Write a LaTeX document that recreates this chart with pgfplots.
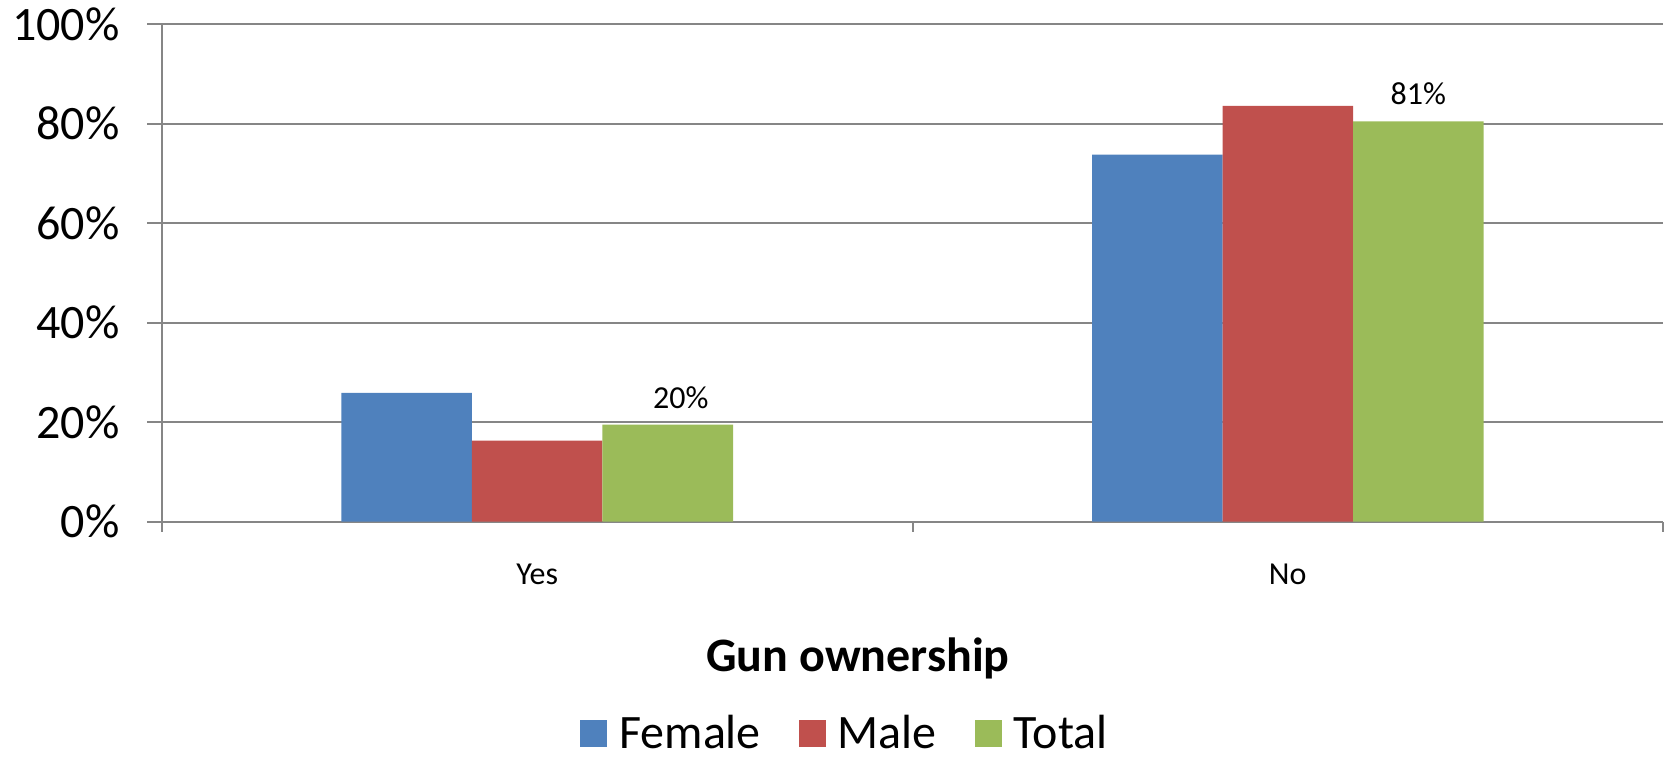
\documentclass[border=0pt]{standalone}
\usepackage{fontspec}
\setmainfont{Carlito}
\usepackage{pgfplots}
\pgfplotsset{compat=1.18}
\definecolor{cF}{HTML}{4F81BD}
\definecolor{cM}{HTML}{C0504D}
\definecolor{cT}{HTML}{9BBB59}
\definecolor{gridc}{HTML}{868686}
\begin{document}
\begin{tikzpicture}
\begin{axis}[
  scale only axis, width=750.5pt, height=248.7pt,
  xmin=-0.5, xmax=1.5, ymin=0, ymax=100,
  axis x line=bottom, axis y line=left,
  axis line style={draw=gridc, line width=1pt, -},
  ybar=0pt, bar width=65.25pt,
  xtick={0,1}, xticklabels={Yes,No},
  minor xtick={-0.5,0.5,1.5},
  major x tick style={draw=none},
  minor x tick style={draw=gridc, line width=1pt},
  minor tick length=5pt,
  ytick={0,20,40,60,80,100},
  yticklabels={0\%,20\%,40\%,60\%,80\%,100\%},
  major tick length=7.3pt,
  tick align=outside,
  ymajorgrids, grid style={draw=gridc, line width=1pt},
  major y tick style={draw=gridc, line width=1pt},
  yticklabel style={font=\fontsize{24}{28}\selectfont, inner sep=0pt, xshift=-13.7pt},
  xticklabel style={font=\fontsize{16}{19}\selectfont, inner sep=0pt, yshift=-13.5pt},
  xlabel={Gun ownership},
  xlabel style={at={(axis description cs:0.4637,-0.302)}, anchor=base, inner sep=0pt, font=\bfseries\fontsize{24}{29}\selectfont},
  legend columns=3,
  legend style={at={(axis description cs:0.4544,-0.426)}, anchor=center, draw=none, fill=none,
    font=\fontsize{24}{28}\selectfont, nodes={inner sep=0pt},
    /tikz/every odd column/.append style={column sep=6pt},
    /tikz/every even column/.append style={column sep=19pt}},
  legend image code/.code={\fill[#1] (0pt,-6.75pt) rectangle (13.5pt,6.75pt);},
]
\addplot[fill=cF, draw=none] coordinates {(0,25.9) (1,73.8)};
\addlegendentry{Female}
\addplot[fill=cM, draw=none] coordinates {(0,16.3) (1,83.6)};
\addlegendentry{Male}
\addplot[fill=cT, draw=none, nodes near coords, point meta=explicit symbolic,
  nodes near coords style={font=\fontsize{16}{19}\selectfont, inner sep=0pt, yshift=8pt, text=black}]
  coordinates {(0,19.5) [\hspace*{13pt}20\%] (1,80.5) [81\%]};
\addlegendentry{Total}
\coordinate (sw) at (rel axis cs:0,0);
\end{axis}
\pgfresetboundingbox
\path[use as bounding box] (sw) ++(-81pt,-118.15pt) rectangle ++(836pt,379pt);
\end{tikzpicture}
\end{document}
